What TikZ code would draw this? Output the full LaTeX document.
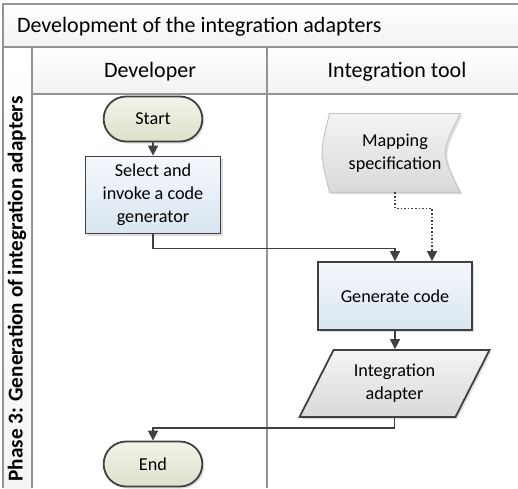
\documentclass[tikz,border=0pt]{standalone}
\usepackage{fontspec}
\setmainfont{Carlito}
\usetikzlibrary{arrows.meta, shapes.geometric, shapes.misc, shadows, backgrounds}

\definecolor{edgegray}{HTML}{404040}
\definecolor{framegray}{HTML}{949494}
\definecolor{termtop}{HTML}{F3F4EA}
\definecolor{termbot}{HTML}{DDE0C9}
\definecolor{proctop}{HTML}{F5F8FC}
\definecolor{procbot}{HTML}{D8E5F1}
\definecolor{datatop}{HTML}{F4F4F4}
\definecolor{databot}{HTML}{D9D9D9}

\begin{document}
\begin{tikzpicture}[x=0.5pt, y=-0.5pt, >={Triangle[length=5pt,width=5pt]},
  font=\fontsize{9.1}{11.5}\selectfont,
  softshadow/.style={drop shadow={shadow xshift=1pt, shadow yshift=-1pt, opacity=0.25}},
  terminal/.style={rounded rectangle, draw=edgegray, line width=0.9pt, top color=termtop,
    bottom color=termbot, minimum width=56pt, minimum height=22.5pt, softshadow},
  process/.style={rectangle, draw=edgegray, line width=0.9pt, top color=proctop,
    bottom color=procbot, align=center, softshadow},
  iobox/.style={trapezium, trapezium left angle=63, trapezium right angle=117,
    trapezium stretches=true, draw=edgegray, line width=0.9pt, top color=datatop,
    bottom color=databot, align=center, minimum width=95.5pt, minimum height=33.5pt, softshadow},
  flow/.style={draw=edgegray, line width=0.8pt},
  lane/.style={draw=framegray, line width=1pt},
  header/.style={font=\fontsize{11}{13}\selectfont}]
  \useasboundingbox (0,0) rectangle (518,488);

  % pool frame: title row, lane headers, phase strip
  \fill[top color=white, bottom color=gray!10] (3,4) rectangle (518,47);
  \fill[top color=white, bottom color=gray!10] (32,47) rectangle (518,94);
  \fill[top color=white, bottom color=gray!8] (3,47) rectangle (32,488);
  \draw[lane] (518,4) -- (3,4) -- (3,488);
  \draw[lane] (3,47) -- (518,47);
  \draw[lane] (32,94) -- (518,94);
  \draw[lane] (32,47) -- (32,488);
  \draw[lane] (267,47) -- (267,488);

  \node[header, anchor=west] (title) at (10,27) {Development of the integration adapters};
  \node[header] (devlane) at (150,72) {Developer};
  \node[header] (toollane) at (397,72) {Integration tool};
  \node[font=\fontsize{10.6}{12}\selectfont\bfseries, rotate=90] (phase) at (17,289)
    {Phase 3: Generation of integration adapters};

  % flow nodes
  \node[terminal] (start) at (153,119) {Start};
  \node[process, minimum width=67.5pt, minimum height=38.5pt] (select) at (153,195)
    {Select and\\invoke a code\\generator};
  \node[align=center, minimum width=65pt, minimum height=39pt] (mapping) at (395,153)
    {Mapping\\specification};
  \begin{scope}[on background layer]
    \draw[draw=gray!45, line width=0.5pt, top color=datatop, bottom color=databot, softshadow]
      (mapping.north west) -- (mapping.north east)
      .. controls ([xshift=-10pt]mapping.east) .. (mapping.south east)
      -- (mapping.south west)
      .. controls ([xshift=-5pt]mapping.west) .. (mapping.north west) -- cycle;
  \end{scope}
  \node[process, minimum width=77pt, minimum height=34pt] (generate) at (395,296) {Generate code};
  \node[iobox] (adapter) at (394.5,383.5) {Integration\\adapter};
  \node[terminal] (finish) at (153,464) {End};

  % connectors
  \draw[flow,->] (start) -- (select);
  \draw[flow,->] (select.south) -- ++(0,14) -| (generate.north);
  \draw[flow,->, densely dotted] (mapping.south) -- ++(0,16) -| ([xshift=18.5pt]generate.north);
  \draw[flow,->] (generate.south) -- (generate.south |- adapter.north);
  \draw[flow,->] (adapter.center |- adapter.south) -- ++(0,10) -| (finish.north);
\end{tikzpicture}
\end{document}
